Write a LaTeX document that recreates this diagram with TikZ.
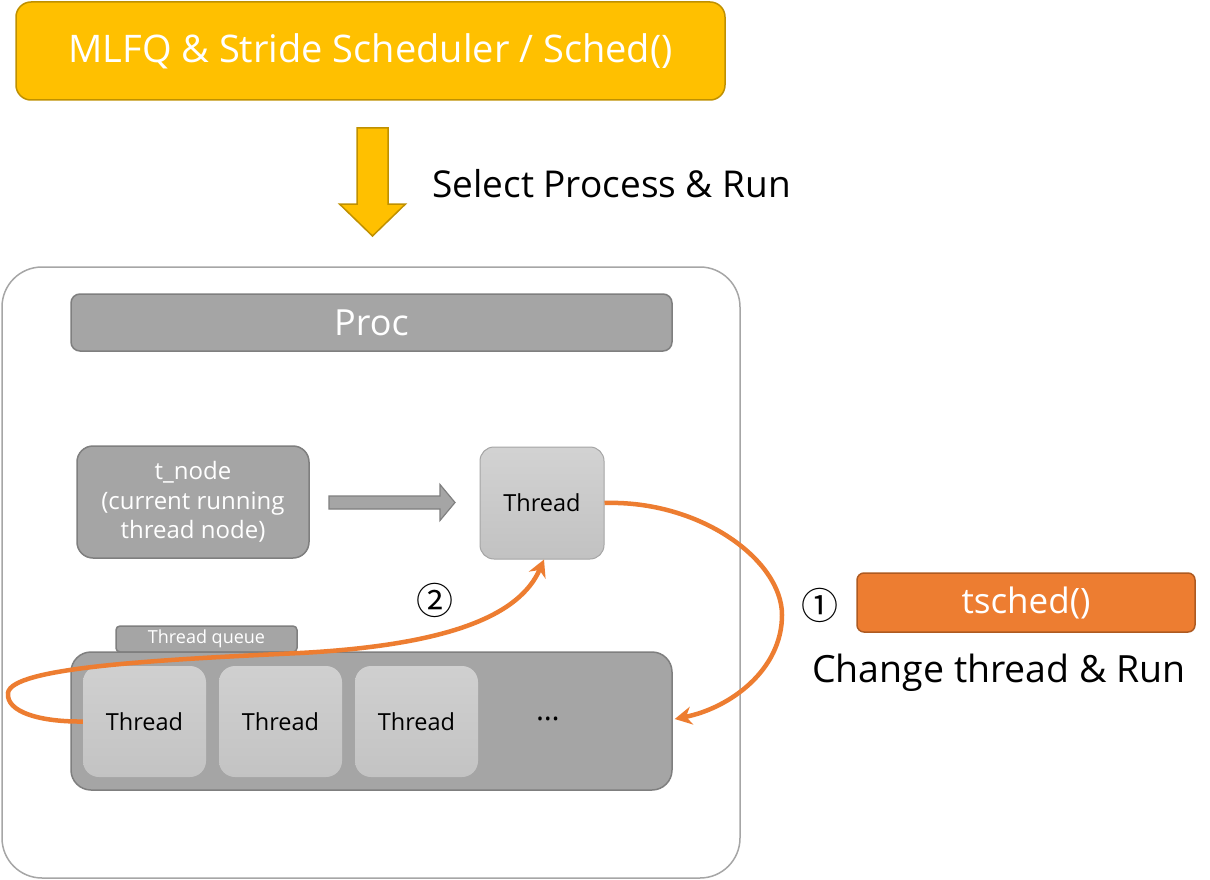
\documentclass[tikz,border=0pt]{standalone}
\usepackage{fontspec}
\setmainfont{Open Sans}
\newfontfamily\circfont{Noto Sans CJK KR}
\usetikzlibrary{arrows.meta,calc}
\definecolor{gold}{HTML}{FFC000}
\definecolor{golddark}{HTML}{BF9000}
\definecolor{midgray}{HTML}{A5A5A5}
\definecolor{darkgray2}{HTML}{7F7F7F}
\definecolor{orng}{HTML}{ED7D31}
\definecolor{orngdark}{HTML}{AE5A21}
\tikzset{
  fs/.style={font=\fontsize{#1}{1.23\dimexpr#1pt\relax}\selectfont},
  graybox/.style={draw=darkgray2, fill=midgray, line width=1.5pt, text=white, align=center, inner sep=0pt},
  thr/.style={top color=gray!35, bottom color=gray!48, draw=midgray, line width=1pt, rounded corners=14pt,
     minimum width=124pt, minimum height=112pt, inner sep=0pt, text=black, fs=23.5},
  qthr/.style={top color=gray!37, bottom color=gray!47, rounded corners=16pt,
     minimum width=123pt, minimum height=111pt, inner sep=0pt, text=black, fs=23.5},
  flow/.style={draw=orng, line width=4.5pt, -{Stealth[length=17pt,width=18pt]}},
  circnum/.style={font=\circfont\fontsize{37}{39}\selectfont, inner sep=0pt},
}
\begin{document}
\begin{tikzpicture}[x=1pt,y=-1pt]
\useasboundingbox (0,0) rectangle (1210,880);
% top scheduler box
\node[draw=golddark, fill=gold, line width=1.5pt, rounded corners=15pt, minimum width=709pt, minimum height=98pt,
  text=white, fs=38] (sched) at (370.5,51) {MLFQ \& Stride Scheduler / Sched()};
% outer proc container
\node[draw=gray!70, fill=white, line width=1.5pt, rounded corners=40pt, minimum width=738pt, minimum height=611pt] (outer) at (371,572.5) {};
% yellow down arrow
\coordinate (ya) at (372.5,128);
\draw[draw=golddark, fill=gold, line width=1.5pt]
  ($(ya)+(-15.5,0)$) -- ($(ya)+(15.5,0)$) -- ($(ya)+(15.5,76)$) -- ($(ya)+(33,76)$) -- ($(ya)+(0,108)$)
  -- ($(ya)+(-33,76)$) -- ($(ya)+(-15.5,76)$) -- cycle;
\node[anchor=west, fs=37, text=black, inner sep=0pt] (select) at (432,184) {Select Process \& Run};
% proc bar
\node[graybox, rounded corners=9pt, minimum width=601pt, minimum height=57pt, fs=36] (proc) at (371.5,322.5) {Proc};
% t_node
\node[graybox, rounded corners=16pt, minimum width=232pt, minimum height=112pt,
  font=\fontsize{24}{29.5}\selectfont] (tnode) at (193,502)
  {t\_node\\(current running\\thread node)};
% current thread
\node[thr] (cur) at (542,503) {Thread};
% gray arrow
\coordinate (ga) at (329,502.5);
\draw[draw=darkgray2, fill=midgray, line width=1.2pt]
  ($(ga)+(0,-6.5)$) -- ($(ga)+(111,-6.5)$) -- ($(ga)+(111,-18)$) -- ($(ga)+(126,0)$) -- ($(ga)+(111,18)$)
  -- ($(ga)+(111,6.5)$) -- ($(ga)+(0,6.5)$) -- cycle;
% thread queue
\node[graybox, rounded corners=4pt, minimum width=181pt, minimum height=26pt, fs=18] (tab) at (206.5,639) {Thread queue};
\node[graybox, rounded corners=20pt, minimum width=601pt, minimum height=138pt] (queue) at (371.5,721) {};
\node[qthr] (q1) at (144.5,721.5) {Thread};
\node[qthr] (q2) at (280.5,721.5) {Thread};
\node[qthr] (q3) at (416.5,721.5) {Thread};
\node[fs=30, text=black] (dots) at (548,719) {\dots};
% tsched
\node[draw=orngdark, fill=orng, line width=1.5pt, rounded corners=7pt, minimum width=338pt, minimum height=59pt,
  text=white, fs=35] (tsched) at (1026,602.5) {tsched()};
\node[fs=37.5, text=black] (change) at (999,673) {Change thread \& Run};
% circled numbers
\node[circnum] (n1) at (820,605) {①};
\node[circnum] (n2) at (435,600) {②};
% orange flows
\coordinate (e1) at ($(queue.east)+(2,-2)$);
\draw[flow] (cur.east) .. controls (700,500) and (782,560) .. (782,615) .. controls (782,670) and (730,708) .. (e1);
\coordinate (s2) at (q1.west);
\draw[flow] (s2) .. controls (40,722) and (6,712) .. (8,693) .. controls (11,668) and (150,660) .. (300,653)
  .. controls (450,645) and (520,615) .. ($(cur.south)+(2,0)$);
\end{tikzpicture}
\end{document}
